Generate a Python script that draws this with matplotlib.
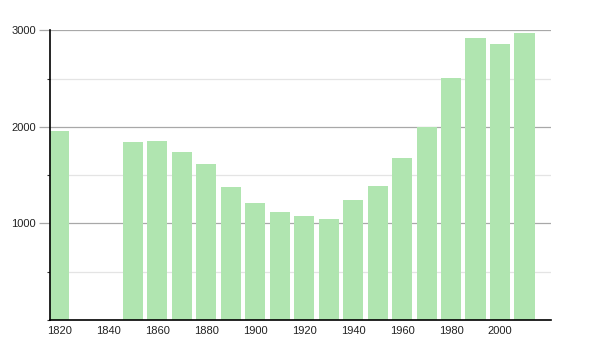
import matplotlib
matplotlib.use("Agg")
import matplotlib.pyplot as plt
from matplotlib.ticker import MultipleLocator

years = [1820, 1850, 1860, 1870, 1880, 1890, 1900, 1910, 1920, 1930,
         1940, 1950, 1960, 1970, 1980, 1990, 2000, 2010]
population = [1955, 1840, 1850, 1740, 1619, 1374, 1212, 1122, 1075, 1046,
              1243, 1388, 1678, 1995, 2506, 2920, 2861, 2972]
xticks = [1820, 1840, 1860, 1880, 1900, 1920, 1940, 1960, 1980, 2000]
yticks = [1000, 2000, 3000]

plt.rcParams['font.family'] = ['Liberation Sans', 'DejaVu Sans']
fig = plt.figure(figsize=(6, 3.5), dpi=100)
ax = fig.add_axes([50/600, 1-320/350, 501/600, 289.7/350])

ax.bar(years, population, width=8.2, color='#b0e5b0', edgecolor='none', zorder=2)

ax.set_xlim(1816.3, 2020.8)
ax.set_ylim(0, 3000)
ax.set_xticks(xticks)
ax.set_yticks(yticks)
ax.yaxis.set_minor_locator(MultipleLocator(500))
ax.grid(axis='y', which='major', color='#a8a8a8', linewidth=0.9, zorder=1)
ax.grid(axis='y', which='minor', color='#e4e4e4', linewidth=0.9, zorder=1)
for s in ['top', 'right']:
    ax.spines[s].set_visible(False)
ax.spines['left'].set_linewidth(1.2)
ax.spines['bottom'].set_linewidth(1.2)
ax.tick_params(axis='x', length=0, labelsize=8, pad=4, labelcolor='#222222')
ax.tick_params(axis='y', which='major', length=8, width=0.9, color='#a8a8a8',
               labelsize=8, pad=2, labelcolor='#222222')
ax.tick_params(axis='y', which='minor', length=2.5, width=0.8, color='#333333')
ax.set_axisbelow(True)

fig.savefig("out.png", dpi=100)
